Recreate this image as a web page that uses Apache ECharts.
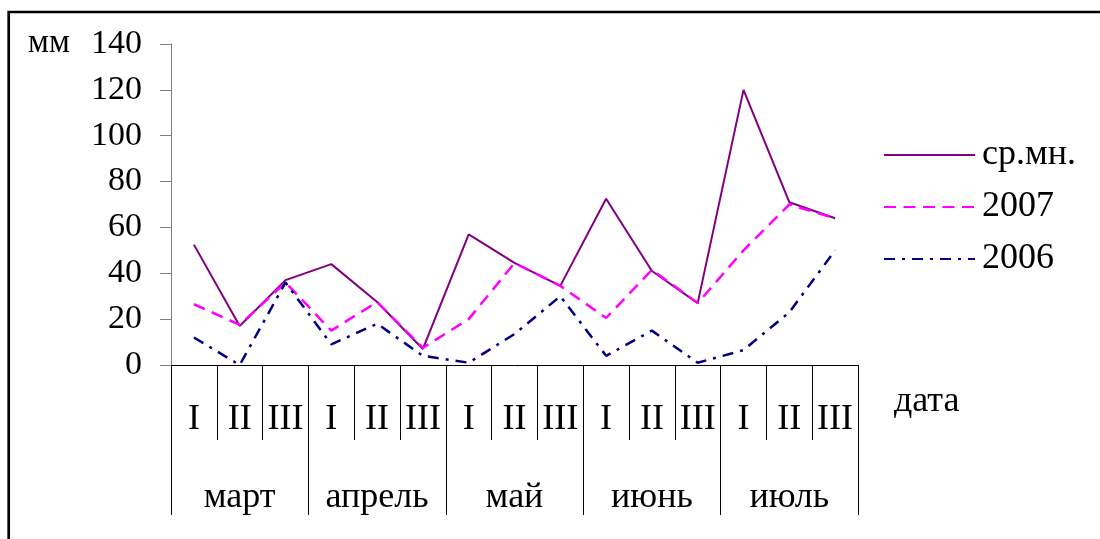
<!DOCTYPE html>
<html>
<head>
<meta charset="utf-8">
<script src="https://cdn.jsdelivr.net/npm/echarts@6/dist/echarts.min.js"></script>
<style>
  html, body { margin: 0; padding: 0; background: #fff; }
  #chart { width: 1100px; height: 539px; }
</style>
</head>
<body>
<div id="chart"></div>
<script>
// Ten-day periods (декады) and months
const decades = ['I', 'II', 'III', 'I', 'II', 'III', 'I', 'II', 'III', 'I', 'II', 'III', 'I', 'II', 'III'];
const months = ['март', 'апрель', 'май', 'июнь', 'июль'];

// Precipitation, mm
const seriesNames = ['ср.мн.', '2007', '2006'];
const avgValues = [52.5, 17, 37, 44, 27.5, 7, 57, 44.5, 34.5, 72.5, 41, 27, 120, 71, 64];
const values2007 = [26.5, 17.5, 36, 15, 27.5, 7.5, 20, 44.5, 34.5, 20.5, 41.5, 27, 50, 70, 64];
const values2006 = [12, 0, 36, 9, 18, 4, 1, 13.5, 30, 4, 15, 1, 6.5, 23, 50];

// Y axis ticks
const yMin = 0, yMax = 140, yStep = 20;

const FONT = 'Liberation Serif';

const chart = echarts.init(document.getElementById('chart'), null, { renderer: 'canvas' });

chart.setOption({
  backgroundColor: '#fff',
  animation: false,
  grid: { left: 171, right: 242, top: 44, bottom: 174, containLabel: false },
  legend: {
    orient: 'vertical',
    left: 883,
    top: 137,
    padding: 0,
    itemWidth: 91,
    itemHeight: 14,
    itemGap: 16,
    data: seriesNames,
    itemStyle: { opacity: 0 },
    textStyle: { fontFamily: FONT, fontSize: 36, lineHeight: 36, color: '#000', padding: [0, 0, 0, 2] }
  },
  xAxis: [
    {
      type: 'category',
      data: decades,
      position: 'bottom',
      boundaryGap: true,
      axisLine: { show: true, lineStyle: { color: '#000', width: 1 } },
      axisTick: { show: true, length: 75, interval: 0, lineStyle: { color: '#000', width: 1 } },
      axisLabel: { interval: 0, margin: 37, fontFamily: FONT, fontSize: 36, lineHeight: 36, color: '#000' },
      splitLine: { show: false }
    },
    {
      type: 'category',
      data: months,
      position: 'bottom',
      offset: 75,
      boundaryGap: true,
      axisLine: { show: false },
      axisTick: { show: true, length: 75, interval: 0, lineStyle: { color: '#000', width: 1 } },
      axisLabel: { interval: 0, margin: 40, fontFamily: FONT, fontSize: 36, lineHeight: 36, color: '#000' },
      splitLine: { show: false }
    }
  ],
  yAxis: {
    type: 'value',
    min: yMin,
    max: yMax,
    interval: yStep,
    axisLine: { show: true, lineStyle: { color: '#808080', width: 1 } },
    axisTick: { show: true, length: 11, lineStyle: { color: '#808080', width: 1 } },
    axisLabel: { margin: 29, fontFamily: FONT, fontSize: 34, lineHeight: 34, color: '#000', padding: [6, 0, 0, 0] },
    splitLine: { show: false }
  },
  series: [
    {
      name: seriesNames[0],
      type: 'line',
      xAxisIndex: 0,
      data: avgValues,
      symbol: 'none',
      lineStyle: { color: '#800080', width: 2, type: 'solid' },
      itemStyle: { color: '#800080' }
    },
    {
      name: seriesNames[1],
      type: 'line',
      xAxisIndex: 0,
      data: values2007,
      symbol: 'none',
      lineStyle: { color: '#ff00ff', width: 2.5, type: [12, 7.5] },
      itemStyle: { color: '#ff00ff' }
    },
    {
      name: seriesNames[2],
      type: 'line',
      xAxisIndex: 0,
      data: values2006,
      symbol: 'none',
      lineStyle: { color: '#000080', width: 2.5, type: [11, 7, 3, 7] },
      itemStyle: { color: '#000080' }
    }
  ],
  graphic: [
    {
      type: 'rect',
      shape: { x: 8.7, y: 12, width: 1200, height: 700 },
      style: { fill: 'none', stroke: '#000', lineWidth: 2.7 },
      silent: true
    },
    {
      type: 'text',
      x: 28,
      y: 43,
      style: { text: 'мм', font: '33px ' + FONT, fill: '#000', verticalAlign: 'middle' },
      silent: true
    },
    {
      type: 'text',
      x: 894,
      y: 402,
      style: { text: 'дата', font: '36px ' + FONT, fill: '#000', verticalAlign: 'middle' },
      silent: true
    }
  ]
});
</script>
</body>
</html>
